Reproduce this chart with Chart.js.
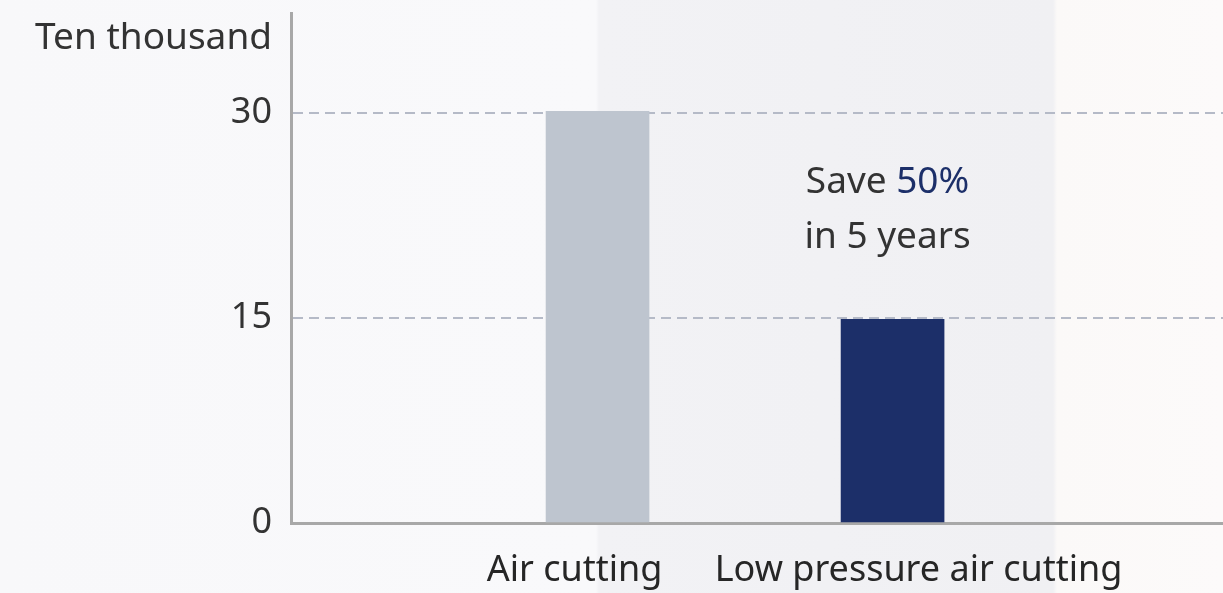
<!DOCTYPE html>
<html>
<head>
<meta charset="utf-8">
<script src="https://cdn.jsdelivr.net/npm/chart.js@4"></script>
<style>
  html, body { margin: 0; padding: 0; overflow: hidden; }
  body {
    width: 1223px; height: 593px;
    background: linear-gradient(to right, #f8f8fa 0px, #f9f9fb 596px, #f2f2f5 599px, #f0f0f3 1053px, #fbf9f8 1057px, #fcfafa 1223px);
  }
  #wrap { position: absolute; left: 0; top: 0; width: 1223px; height: 593px; }
</style>
</head>
<body>
<div id="wrap"><canvas id="myChart" width="1223" height="593"></canvas></div>
<script>
// chart values
const categories = ["Air cutting", "Low pressure air cutting"];
const values = [30.1, 14.9];
const barColors = ["#bec5cf", "#1c2f69"];
const yTicks = [0, 15, 30];
const unitLabel = "Ten thousand";
const noteLine1 = "Save ";
const noteHighlight = "50%";
const noteLine2 = "in 5 years";

const font = "'Noto Sans', 'DejaVu Sans', sans-serif";

const extraText = {
  id: "extraText",
  afterDatasetsDraw(chart) {
    const ctx = chart.ctx;
    const x = chart.scales.x;
    const y = chart.scales.y;
    ctx.save();
    ctx.font = "37px " + font;
    ctx.textBaseline = "alphabetic";

    // unit label above the y axis
    ctx.fillStyle = "#333";
    ctx.textAlign = "right";
    ctx.fillText(unitLabel, 272, 49);

    // note near the second bar
    const cx = x.getPixelForValue(1) - 5;
    const w1 = ctx.measureText(noteLine1).width;
    const w2 = ctx.measureText(noteHighlight).width;
    let start = cx - (w1 + w2) / 2;
    ctx.textAlign = "left";
    ctx.fillStyle = "#333";
    ctx.fillText(noteLine1, start, y.getPixelForValue(24.15));
    ctx.fillStyle = "#1c2f69";
    ctx.fillText(noteHighlight, start + w1, y.getPixelForValue(24.15));
    ctx.fillStyle = "#333";
    ctx.textAlign = "center";
    ctx.fillText(noteLine2, cx, y.getPixelForValue(20.1));
    ctx.restore();
  }
};

new Chart(document.getElementById("myChart"), {
  type: "bar",
  data: {
    datasets: [
      {
        data: categories.map((c, i) => ({ x: i, y: values[i] })),
        backgroundColor: barColors,
        barThickness: 103,
      },
    ],
  },
  options: {
    responsive: false,
    animation: false,
    layout: { padding: { top: 13, left: 0, right: 0, bottom: 0 } },
    plugins: {
      legend: { display: false },
      tooltip: { enabled: false },
    },
    scales: {
      x: {
        type: "linear",
        offset: false,
        min: -1.039,
        max: 2.12,
        afterBuildTicks: (scale) => {
          const nudge = [-0.078, 0.088];
          scale.ticks = categories.map((c, i) => ({ value: i + nudge[i] }));
        },
        afterFit: (scale) => {
          scale.height = 70;
          scale.paddingLeft = 0;
          scale.paddingRight = 0;
        },
        grid: { display: false, drawTicks: false, offset: false },
        border: { display: true, color: "#a8a8a8", width: 3 },
        ticks: {
          callback: (v, i) => categories[i],
          font: { family: font, size: 36 },
          color: "#262626",
          padding: 26,
          maxRotation: 0,
          autoSkip: false,
        },
      },
      y: {
        min: 0,
        max: 37.3,
        afterBuildTicks: (scale) => {
          scale.ticks = yTicks.map((v) => ({ value: v }));
        },
        afterFit: (scale) => {
          scale.width = 291;
          scale.paddingTop = 0;
          scale.paddingBottom = 0;
        },
        grid: {
          drawTicks: false,
          color: (ctx) => (ctx.tick && ctx.tick.value === 0 ? "rgba(0,0,0,0)" : "#b5bac7"),
          lineWidth: 2,
        },
        border: { display: true, color: "#a8a8a8", width: 3, dash: [10, 6] },
        ticks: {
          font: { family: font, size: 36 },
          color: "#333",
          padding: 19,
        },
      },
    },
  },
  plugins: [extraText],
});
</script>
</body>
</html>
